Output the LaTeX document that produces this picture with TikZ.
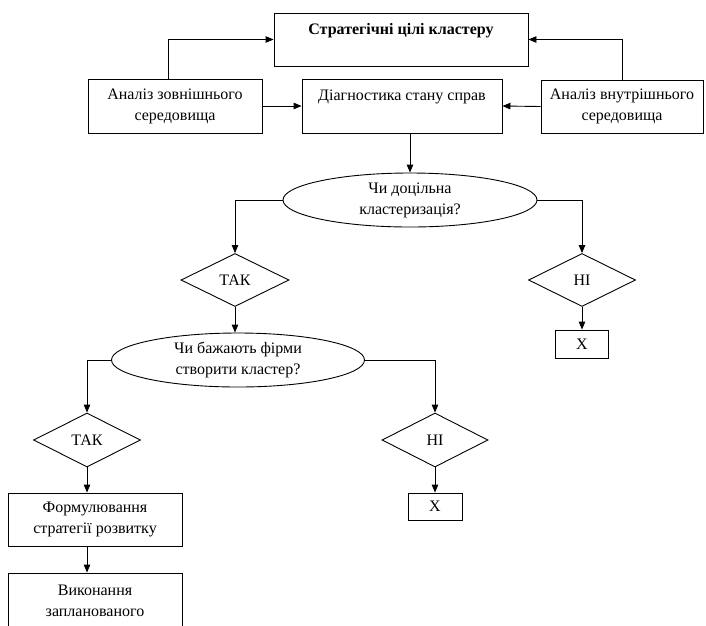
\documentclass[tikz,border=0pt]{standalone}
\usepackage{fontspec}
\setmainfont{Liberation Serif}
\usetikzlibrary{shapes.geometric,arrows.meta}
\begin{document}
\begin{tikzpicture}[x=1pt,y=-1pt,
  txt/.style={font=\fontsize{16}{21}\selectfont},
  box/.style={txt,draw,rectangle,line width=0.9pt,inner sep=0pt,align=center},
  ell/.style={txt,draw,ellipse,line width=0.9pt,inner sep=0pt,align=center},
  dia/.style={txt,draw,diamond,line width=0.9pt,inner sep=0pt,align=center},
  arr/.style={line width=0.9pt,-{Triangle[length=8pt,width=6.5pt]}},
]
\useasboundingbox (0,0) rectangle (706,625);
\clip (0,0) rectangle (706,625);

\node[box,minimum width=254pt,minimum height=53pt] (top) at (401,39.5) {\textbf{Стратегічні цілі кластеру}\\\mbox{}};
\node[box,minimum width=174pt,minimum height=54pt] (lb) at (175,106) {Аналіз зовнішнього\\середовища};
\node[box,minimum width=200pt,minimum height=54pt] (mid) at (402,106) {Діагностика стану справ\\\mbox{}};
\node[box,minimum width=162pt,minimum height=53pt] (rb) at (622,106.5) {Аналіз внутрішнього\\середовища};

\node[ell,minimum width=254pt,minimum height=54pt] (e1) at (410,200) {Чи доцільна\\кластеризація?};
\node[dia,minimum width=108pt,minimum height=53pt] (t1) at (235,280) {ТАК};
\node[dia,minimum width=107pt,minimum height=53pt] (n1) at (582,280) {НІ};
\node[box,minimum width=53pt,minimum height=28pt] (x1) at (582,344) {X};

\node[ell,minimum width=253pt,minimum height=54pt] (e2) at (238,360) {Чи бажають фірми\\створити кластер?};
\node[dia,minimum width=107pt,minimum height=54pt] (t2) at (87,440) {ТАК};
\node[dia,minimum width=106pt,minimum height=54pt] (n2) at (435,440) {НІ};
\node[box,minimum width=54pt,minimum height=27pt] (x2) at (435,506.5) {X};

\node[box,minimum width=174pt,minimum height=53pt] (form) at (95,519.5) {Формулювання\\стратегії розвитку};
\node[box,minimum width=174pt,minimum height=56pt] (vyk) at (95,601) {Виконання\\запланованого};

\draw[arr] ([xshift=-7pt]lb.north) |- (top.west);
\draw[arr] (rb.north) |- (top.east);
\draw[arr] (lb.east) -- (mid.west);
\draw[arr] (rb.west) -- (mid.east);
\draw[arr] (e1.north |- mid.south) -- (e1.north);

\draw[arr] (e1.west) -| (t1.north);
\draw[arr] (e1.east) -| (n1.north);
\draw[arr] (n1.south) -- (x1.north);
\draw[arr] (t1.south) -- (t1.south |- e2.north);

\draw[arr] (e2.west) -| (t2.north);
\draw[arr] (e2.east) -| (n2.north);
\draw[arr] (n2.south) -- (x2.north);
\draw[arr] (t2.south) -- (t2.south |- form.north);
\draw[arr] (t2.south |- form.south) -- (t2.south |- vyk.north);
\end{tikzpicture}
\end{document}
